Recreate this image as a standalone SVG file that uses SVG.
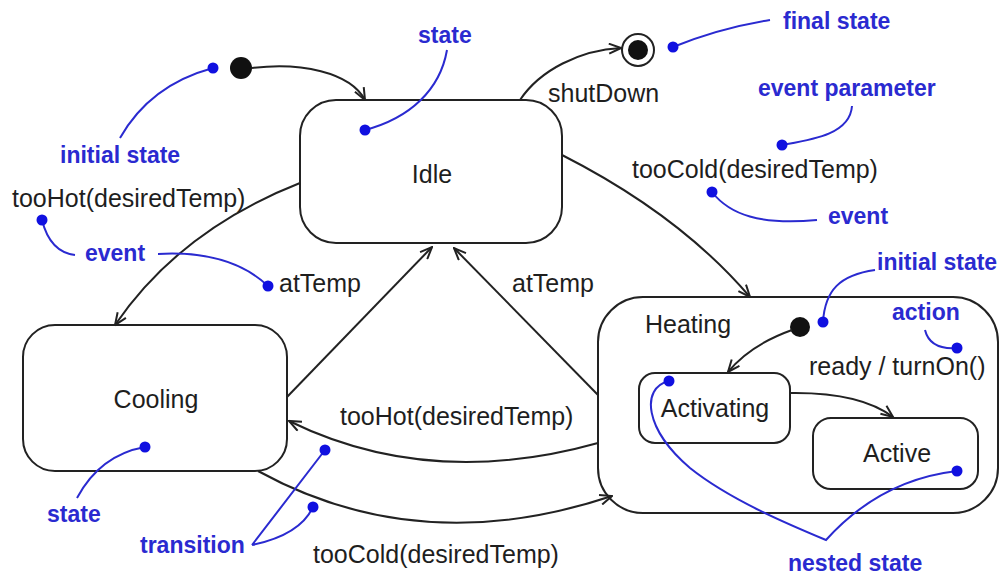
<svg xmlns="http://www.w3.org/2000/svg" width="1000" height="576" viewBox="0 0 1000 576">
<defs>
<style>
.st{fill:#fff;stroke:#222;stroke-width:2}
.ct{fill:none;stroke:#222;stroke-width:2}
.c{fill:none;stroke:#222;stroke-width:2}
.lbl{font-family:"Liberation Sans",Arial,sans-serif;font-size:25px;fill:#1e1e1e}
.ann{font-family:"Liberation Sans",Arial,sans-serif;font-size:23px;font-weight:bold;fill:#2a2ad0}
.al{fill:none;stroke:#2a2ad0;stroke-width:2}
.dot{fill:#1010e0}
</style>
<marker id="arr" viewBox="0 0 14 12" refX="13" refY="6" markerWidth="14" markerHeight="12" markerUnits="userSpaceOnUse" orient="auto">
<path d="M1,1 L13,6 L1,11" fill="none" stroke="#222" stroke-width="2"/>
</marker>
</defs>
<rect width="1000" height="576" fill="#fff"/>

<g id="initial">
<circle cx="241" cy="68" r="11" fill="#111"/>
</g>
<g id="final">
<circle cx="638" cy="50" r="16" fill="#fff" stroke="#222" stroke-width="2"/>
<circle cx="638" cy="50" r="10" fill="#111"/>
</g>
<g id="idle">
<rect class="st" x="300" y="100" width="262" height="143" rx="36"/>
<text class="lbl" x="432" y="183" text-anchor="middle">Idle</text>
</g>
<g id="cooling">
<rect class="st" x="23" y="325" width="264" height="146" rx="32"/>
<text class="lbl" x="156" y="408" text-anchor="middle">Cooling</text>
</g>
<g id="heating">
<rect class="ct" x="598" y="297" width="400" height="216" rx="45"/>
<text class="lbl" x="645" y="333">Heating</text>
</g>
<g id="heating-initial">
<circle cx="800" cy="327" r="10" fill="#111"/>
</g>
<g id="activating">
<rect class="st" x="639" y="373" width="151" height="70" rx="16"/>
<text class="lbl" x="715" y="417" text-anchor="middle">Activating</text>
</g>
<g id="active">
<rect class="st" x="813" y="418" width="165" height="71" rx="18"/>
<text class="lbl" x="897" y="462" text-anchor="middle">Active</text>
</g>

<g id="connectors">
<path class="c" d="M252,68 C300,62 350,72 365,100" marker-end="url(#arr)"/>
<path class="c" d="M520,100 C540,70 580,50 621,48" marker-end="url(#arr)"/>
<path class="c" d="M562,155 Q680,215 750,297" marker-end="url(#arr)"/>
<path class="c" d="M300,183 Q180,230 115,325" marker-end="url(#arr)"/>
<path class="c" d="M287,397 L432,247" marker-end="url(#arr)"/>
<path class="c" d="M598,395 L454,248" marker-end="url(#arr)"/>
<path class="c" d="M598,443 Q430,490 289,421" marker-end="url(#arr)"/>
<path class="c" d="M258,471 Q420,560 612,496" marker-end="url(#arr)"/>
<path class="c" d="M792,330 Q750,345 728,372" marker-end="url(#arr)"/>
<path class="c" d="M790,393 Q860,392 893,417" marker-end="url(#arr)"/>
<text class="lbl" x="548" y="102">shutDown</text>
<text class="lbl" x="632" y="178">tooCold(desiredTemp)</text>
<text class="lbl" x="12" y="207">tooHot(desiredTemp)</text>
<text class="lbl" x="279" y="292">atTemp</text>
<text class="lbl" x="512" y="292">atTemp</text>
<text class="lbl" x="340" y="425">tooHot(desiredTemp)</text>
<text class="lbl" x="313" y="563">tooCold(desiredTemp)</text>
<text class="lbl" x="809" y="375">ready / turnOn()</text>
</g>

<g id="annotations">
<path class="al" d="M120,138 Q150,85 213,68"/><circle class="dot" cx="213" cy="68" r="5.5"/>
<text class="ann" x="60" y="163">initial state</text>
<path class="al" d="M447,50 C440,90 410,118 365,130"/><circle class="dot" cx="365" cy="130" r="5.5"/>
<text class="ann" x="418" y="43">state</text>
<path class="al" d="M770,20 Q720,28 673,47"/><circle class="dot" cx="673" cy="47" r="5.5"/>
<text class="ann" x="783" y="29">final state</text>
<path class="al" d="M852,106 C850,135 810,140 782,145"/><circle class="dot" cx="782" cy="145" r="5.5"/>
<text class="ann" x="758" y="96">event parameter</text>
<path class="al" d="M817,220 C760,225 730,215 712,192"/><circle class="dot" cx="712" cy="192" r="5.5"/>
<text class="ann" x="828" y="224">event</text>
<path class="al" d="M42,220 Q50,252 75,255"/><circle class="dot" cx="42" cy="220" r="5.5"/>
<path class="al" d="M158,254 Q230,250 268,286"/><circle class="dot" cx="268" cy="286" r="5.5"/>
<text class="ann" x="85" y="261">event</text>
<path class="al" d="M875,270 C840,275 825,290 823,322"/><circle class="dot" cx="823" cy="322" r="5.5"/>
<text class="ann" x="877" y="270">initial state</text>
<path class="al" d="M925,330 Q930,350 957,348"/><circle class="dot" cx="957" cy="348" r="5.5"/>
<text class="ann" x="892" y="320">action</text>
<path class="al" d="M77,498 Q100,455 145,447"/><circle class="dot" cx="145" cy="447" r="5.5"/>
<text class="ann" x="47" y="522">state</text>
<path class="al" d="M252,545 L325,450 M252,545 Q300,535 313,507"/>
<circle class="dot" cx="325" cy="450" r="5.5"/><circle class="dot" cx="313" cy="507" r="5.5"/>
<text class="ann" x="140" y="553">transition</text>
<path class="al" d="M669,381 C640,388 645,430 690,468 C730,500 790,525 826,540 Q880,480 957,471"/>
<circle class="dot" cx="669" cy="381" r="5.5"/><circle class="dot" cx="957" cy="471" r="5.5"/>
<text class="ann" x="788" y="571">nested state</text>
</g>
</svg>
